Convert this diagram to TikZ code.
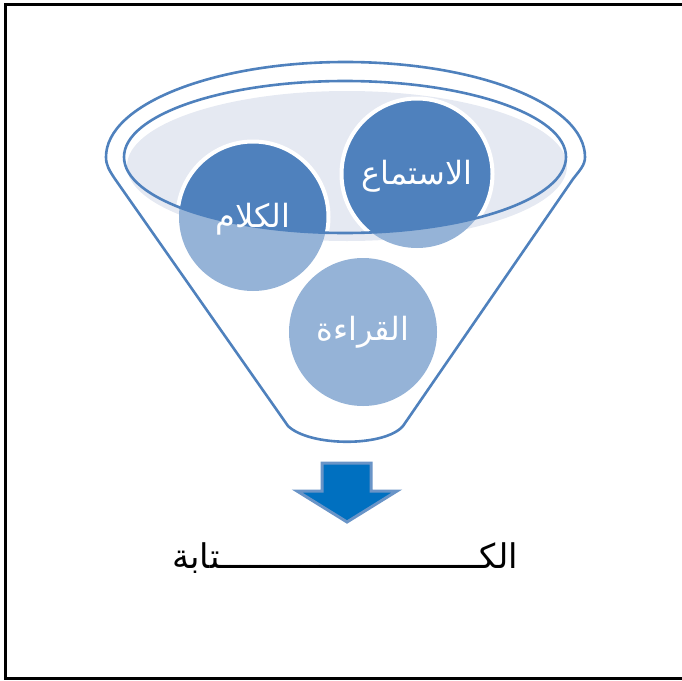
\documentclass[tikz,border=0pt]{standalone}
\usepackage{fontspec}
\newfontfamily\arabicfont[Script=Arabic]{DejaVu Sans}
\TeXXeTstate=1
\definecolor{darkb}{HTML}{4F81BD}
\definecolor{lightb}{HTML}{95B3D7}
\definecolor{fillb}{HTML}{E5E9F2}
\definecolor{arrowb}{HTML}{0070C0}
\tikzset{
  funnelline/.style={draw=darkb, line width=2.6pt},
  bubble/.style={circle, minimum size=148pt, inner sep=0pt},
  btext/.style={text=white, font=\arabicfont\fontsize{32}{36}\selectfont},
}
\begin{document}
\begin{tikzpicture}[x=1pt,y=-1pt]
\useasboundingbox (0,0) rectangle (682,680);
% frame
\draw[line width=3pt, black] (690,4.5) -- (5,4.5) -- (5,678) -- (690,678);
% funnel outer
\draw[funnelline] (106,157) arc[start angle=180, end angle=360, x radius=239.5, y radius=95]
  .. controls (585,165) and (580,170) .. (573,179)
  -- (403,426) .. controls (385,447) and (310,447) .. (288,426)
  -- (115,179) .. controls (109,170) and (106,165) .. (106,157) -- cycle;
% light fill
\fill[fillb] (347,166) ellipse[x radius=220, y radius=75];
% circles light
\node[bubble, fill=lightb] (kalam) at (253,217) {};
\node[bubble, fill=lightb] (istima) at (417,174) {};
\node[bubble, fill=lightb] (qiraa) at (363,332) {};
% dark parts inside inner ellipse
\begin{scope}
  \clip (345,157) ellipse[x radius=221, y radius=76];
  \fill[darkb] (253,217) circle[radius=74];
  \fill[darkb] (417,174) circle[radius=74];
  \draw[white, line width=4pt] (253,217) circle[radius=75.5];
  \draw[white, line width=4pt] (417,174) circle[radius=75.5];
\end{scope}
% inner ellipse outline
\draw[funnelline] (345,157) ellipse[x radius=221, y radius=76];
% labels
\node[btext] at ([yshift=-2pt]istima) {\beginR الاستماع\endR};
\node[btext] at ([yshift=-2pt]kalam) {\beginR الكلام\endR};
\node[btext] at (qiraa) {\beginR القراءة\endR};
% arrow
\draw[fill=arrowb, draw=darkb!85!white, line width=3pt, line join=miter]
  (322,463) -- (371,463) -- (371,491) -- (397,491) -- (347,522) -- (297,491) -- (322,491) -- cycle;
% result text
\node[font=\arabicfont\fontsize{34}{38}\selectfont] (kitaba) at (345,558) {\beginR الكــــــــــــــــــــــــــتابة\endR};
\end{tikzpicture}
\end{document}
